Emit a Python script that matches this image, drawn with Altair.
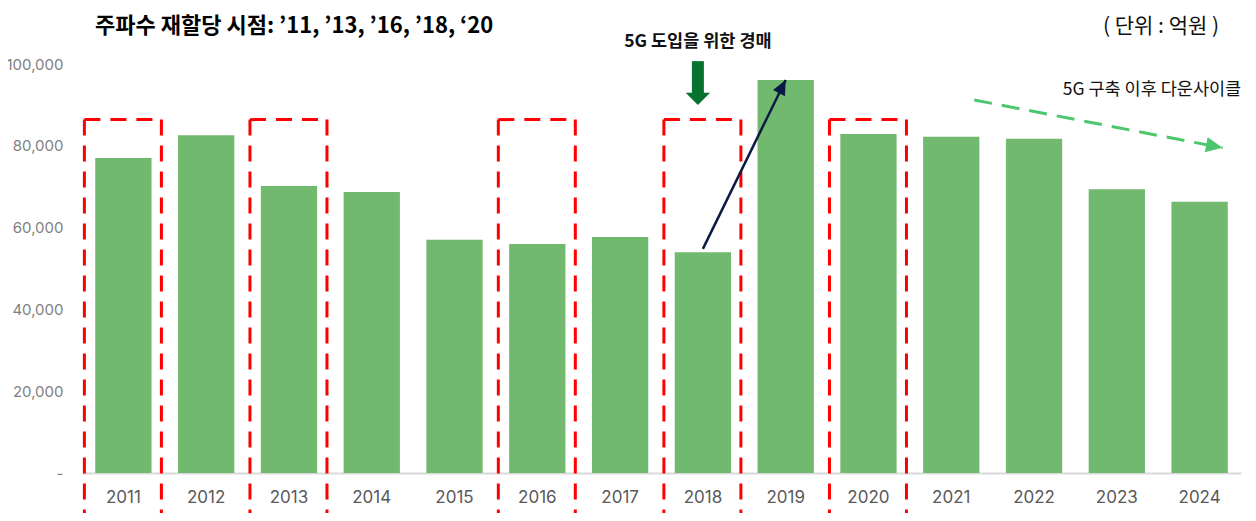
import altair as alt
import pandas as pd

# ---- data ----
years = [str(y) for y in range(2011, 2025)]
values = [77000, 82600, 70200, 68700, 57000, 56000, 57700, 54000,
          96100, 82900, 82200, 81700, 69400, 66300]
realloc_years = ["2011", "2013", "2016", "2018", "2020"]
box_top = 86400

arrow_up_x = ["2018", "2019"]
arrow_up_y = [54800, 96100]
down_x = ["2021", "2024"]
down_y = [91200, 79500]

title_text = "주파수 재할당 시점: ’11, ’13, ’16, ’18, ‘20"
unit_text = "( 단위 : 억원 )"
auction_text = "5G 도입을 위한 경매"
downcycle_text = "5G 구축 이후 다운사이클"

df = pd.DataFrame({"year": years, "value": values})
boxes = pd.DataFrame({"year": realloc_years, "top": [box_top] * len(realloc_years)})
up_df = pd.DataFrame({"year": arrow_up_x, "v": arrow_up_y})
down_df = pd.DataFrame({"year": down_x, "v": down_y})

W, H = 1159, 465          # group area (includes header band above the bars)
TOP = 56                  # pixel row of the 100,000 value inside the group
FONT = "Inter, Noto Sans CJK KR, sans-serif"
KFONT = "Noto Sans CJK KR, Inter, sans-serif"

xscale = alt.Scale(domain=years, paddingInner=0.32, paddingOuter=0.16)
yscale = alt.Scale(domain=[0, 100000], nice=False, range=[H, TOP])

x = alt.X("year:N", sort=years, scale=xscale, title=None,
          axis=alt.Axis(labelAngle=0, ticks=False, tickSize=0, domainColor="#d9d9d9",
                        domainWidth=2, labelFontSize=17, labelColor="#595959",
                        labelPadding=16, labelFont=FONT, grid=False))
y = alt.Y("value:Q", scale=yscale, title=None,
          axis=alt.Axis(values=[0, 20000, 40000, 60000, 80000, 100000],
                        labelExpr="datum.value == 0 ? '-' : format(datum.value, ',')",
                        ticks=False, tickSize=0, domain=False, grid=False,
                        labelFontSize=15, labelColor="#7f7f7f", labelPadding=19,
                        labelFont=FONT))

bars = alt.Chart(df).mark_bar(color="#70b96e").encode(x=x, y=y)

xb = alt.X("year:N", sort=years, scale=xscale)
dash = [16, 10]
red = "#ff0000"
left = alt.Chart(boxes).mark_rule(color=red, strokeWidth=3, strokeDash=dash, xOffset=-39).encode(
    x=xb, y=alt.Y("top:Q", scale=yscale), y2=alt.value(H + 40))
right = alt.Chart(boxes).mark_rule(color=red, strokeWidth=3, strokeDash=dash, xOffset=38).encode(
    x=xb, y=alt.Y("top:Q", scale=yscale), y2=alt.value(H + 40))
top = alt.Chart(boxes).mark_rule(color=red, strokeWidth=3, strokeDash=dash,
                                 xOffset=-39, x2Offset=38).encode(
    x=xb, x2="year:N", y=alt.Y("top:Q", scale=yscale))

# navy arrow 2018 -> 2019
navy = "#0b1a45"
up_line = alt.Chart(up_df).mark_line(color=navy, strokeWidth=2.5).encode(
    x=xb, y=alt.Y("v:Q", scale=yscale))
head_shape = "M0,0 L-1,2.2 L1,2.2 Z"
up_head = alt.Chart(up_df.iloc[[1]]).mark_point(
    shape=head_shape, filled=True, color=navy, opacity=1, size=180, angle=27).encode(
    x=xb, y=alt.Y("v:Q", scale=yscale))

# green dashed downcycle arrow
lg = "#4cc66f"
down_line = alt.Chart(down_df).mark_line(color=lg, strokeWidth=3, strokeDash=[18, 10],
                                         xOffset=23).encode(
    x=xb, y=alt.Y("v:Q", scale=yscale))
down_head = alt.Chart(down_df.iloc[[1]]).mark_point(
    shape=head_shape, filled=True, color=lg, opacity=1, size=230, angle=100.9,
    xOffset=23).encode(x=xb, y=alt.Y("v:Q", scale=yscale))

# green down arrow over 2018
dg = "#08722f"
ann18 = pd.DataFrame({"year": ["2018"], "a": [100700], "b": [92000], "h": [91500],
                      "lab": [105400]})
shaft = alt.Chart(ann18).mark_rule(color=dg, strokeWidth=12, xOffset=-5).encode(
    x=xb, y=alt.Y("a:Q", scale=yscale), y2="b:Q")
dhead = alt.Chart(ann18).mark_point(shape="M-1,-0.5 L1,-0.5 L0,0.5 Z", filled=True,
                                    color=dg, opacity=1, size=600, xOffset=-5).encode(
    x=xb, y=alt.Y("h:Q", scale=yscale))
lab18 = alt.Chart(ann18).mark_text(text=auction_text, font=KFONT, fontSize=17.5,
                                   fontWeight="bold", color="#111111", xOffset=-5,
                                   baseline="middle").encode(
    x=xb, y=alt.Y("lab:Q", scale=yscale))

title = alt.Chart(pd.DataFrame({"t": [title_text]})).mark_text(
    font=KFONT, fontSize=22, fontWeight="bold", color="#000000", align="left",
    baseline="middle").encode(text="t:N", x=alt.value(13), y=alt.value(18))
unit = alt.Chart(pd.DataFrame({"t": [unit_text]})).mark_text(
    font=KFONT, fontSize=21, color="#111111", align="center", baseline="middle").encode(
    text="t:N", x=alt.value(1079), y=alt.value(19))
down_lab = alt.Chart(pd.DataFrame({"t": [downcycle_text]})).mark_text(
    font=KFONT, fontSize=17.5, color="#111111", align="center", baseline="middle").encode(
    text="t:N", x=alt.value(1070), y=alt.value(82))

chart = alt.layer(
    bars, left, right, top, up_line, up_head, down_line, down_head,
    shaft, dhead, lab18, title, unit, down_lab
).properties(
    width=W, height=H,
    autosize=alt.AutoSizeParams(type="none"),
    padding={"left": 74, "top": 0, "right": 7, "bottom": 40},
).configure_view(stroke=None)

chart.save("out.html", embed_options={"renderer": "svg", "actions": False})
